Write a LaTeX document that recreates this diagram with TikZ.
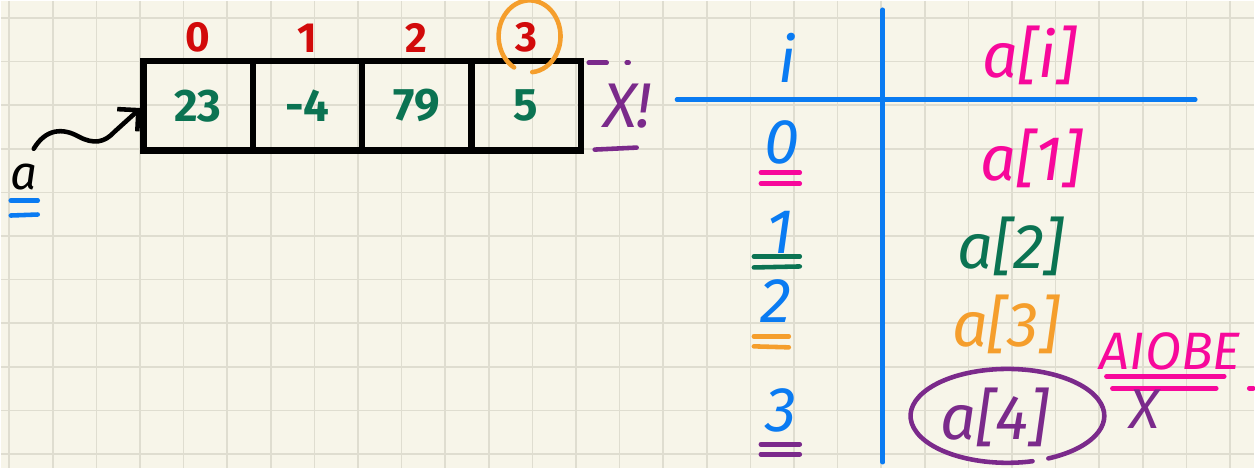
\documentclass[tikz,border=0pt]{standalone}
\usepackage{fontspec}
\setmainfont{Fira Sans}
\usetikzlibrary{arrows.meta, positioning, calc}
\usepackage{xcolor}
\definecolor{Paper}{HTML}{F7F5E9}
\definecolor{GridLine}{HTML}{DFDDD0}
\definecolor{IdxRed}{HTML}{D20A0A}
\definecolor{ValGreen}{HTML}{0B7352}
\definecolor{Marker}{HTML}{F59E2C}
\definecolor{Plum}{HTML}{7B2A8B}
\definecolor{Azure}{HTML}{0A7BF2}
\definecolor{Magenta}{HTML}{F7089B}

\begin{document}
\begin{tikzpicture}[
    x=0.02cm, y=-0.02cm,
    gridline/.style={GridLine, line width=0.9pt},
    cell/.style={
        draw, line width=3.6pt, outer sep=0pt, inner sep=0pt,
        minimum width=2.19cm, minimum height=1.8cm,
        font=\fontsize{26}{26}\selectfont\bfseries, text=ValGreen
    },
    idx/.style={inner sep=0pt, font=\fontsize{24}{24}\selectfont\bfseries, text=IdxRed},
    hand/.style={inner sep=0pt, font=\fontsize{36}{36}\selectfont\itshape},
    pen/.style={line width=2.6pt, line cap=round},
    rule/.style={line width=2.6pt, Azure, line cap=round},
    ptrarr/.style={pen, -{Straight Barb[length=3mm, width=6mm]}, shorten >=2pt}
]

% =============================================
% PAPER
% =============================================
\fill[Paper] (0,0) rectangle (1255,468);
\foreach \k in {0,...,28}
    \draw[gridline] ({8.5+43.65*\k},0) -- ({8.5+43.65*\k},468);
\foreach \k in {0,...,10}
    \draw[gridline] (0,{17.2+43.65*\k}) -- (1255,{17.2+43.65*\k});
\useasboundingbox (0,0) rectangle (1255,468);

% =============================================
% ARRAY
% =============================================
\node[cell] (cell0) at (197.5,105) {23};
\node[cell, right=0pt of cell0] (cell1) {-4};
\node[cell, right=0pt of cell1] (cell2) {79};
\node[cell, right=0pt of cell2] (cell3) {5};

\node[idx, above=0.16cm of cell0] (idx0) {0};
\node[idx, above=0.16cm of cell1] (idx1) {1};
\node[idx, above=0.16cm of cell2] (idx2) {2};
\node[idx, above=0.16cm of cell3] (idx3) {3};

% last index circled
\draw[pen, Marker] ($(idx3.center)+(-12,30)$)
    arc[start angle=120, end angle=445, x radius=31, y radius=36];

% missing cell after the end
\draw[pen, Plum] ($(cell3.north east)+(8,2)$) -- ++(18,0);
\draw[pen, Plum] ($(cell3.north east)+(46,2)$) -- ++(2,0);
\draw[pen, Plum] ($(cell3.south east)+(14,-1)$) -- ++(42,-2);
\node[hand, text=Plum, right=0.44cm of cell3] (oob) {X!};

% reference a
\node[hand, anchor=south, font=\fontsize{27}{27}\selectfont\itshape] (ptr) at (23,190) {a};
\draw[pen, Azure] ($(ptr.south)+(-13,10)$) -- ++(27,0);
\draw[pen, Azure] ($(ptr.south)+(-13,25)$) -- ++(27,-1);
\draw[ptrarr] ($(ptr.north)+(10,-15)$)
    .. controls (45,128) and (62,127) .. (78,136)
    .. controls (93,144) and (104,142) .. (114,131) -- (cell0.west);

% =============================================
% TABLE
% =============================================
\coordinate (vtop) at (883,9);
\coordinate (vbot) at (883,462);
\coordinate (hleft) at (677,99);
\coordinate (hright) at (1196,99);
\draw[rule] (vtop) -- (vbot);
\draw[rule] (hleft) -- (hright);

\node[hand, text=Azure] (ihead) at (787,57) {i};
\node[hand, text=Magenta] (vhead) at (1030,55) {a[i]};

\node[hand, text=Azure, anchor=south] (row0) at (782,164) {0};
\node[hand, text=Azure, anchor=south] (row1) at (780,253) {1};
\node[hand, text=Azure, anchor=south] (row2) at (776,322) {2};
\node[hand, text=Azure, anchor=south] (row3) at (781,432) {3};

\draw[pen, Magenta] ($(row0.south)+(-21,8)$) -- ++(39,0);
\draw[pen, Magenta] ($(row0.south)+(-21,19)$) -- ++(39,0);
\draw[pen, ValGreen] ($(row1.south)+(-26,3)$) -- ++(46,0);
\draw[pen, ValGreen] ($(row1.south)+(-26,14)$) -- ++(46,-1);
\draw[pen, Marker] ($(row2.south)+(-22,14)$) -- ++(35,0);
\draw[pen, Marker] ($(row2.south)+(-22,24)$) -- ++(35,1);
\draw[pen, Plum] ($(row3.south)+(-20,12)$) -- ++(39,0);
\draw[pen, Plum] ($(row3.south)+(-20,22)$) -- ++(39,0);

\node[hand, text=Magenta] (val0) at (1032,158) {a[1]};
\node[hand, text=ValGreen] (val1) at (1011,246) {a[2]};
\node[hand, text=Marker] (val2) at (1006,324) {a[3]};
\node[hand, text=Plum] (val3) at (995,417) {a[4]};

% out of bounds
\draw[pen, Plum] ($(val3.center)+(38,44)$)
    arc[start angle=75, end angle=425, x radius=97, y radius=47];

\node[hand, text=Magenta, anchor=south, font=\fontsize{30}{30}\selectfont\itshape] (err) at (1171,370) {AIOBE};
\draw[pen, Magenta] ($(err.south)+(-64,6)$) -- ++(118,0);
\draw[pen, Magenta] ($(err.south)+(-58,18)$) -- ++(104,0);
\node[hand, text=Plum, font=\fontsize{32}{32}\selectfont\itshape] (errx) at (1145,409) {X};
\draw[pen, Magenta] (1250,388) -- (1254,388);

\end{tikzpicture}
\end{document}
